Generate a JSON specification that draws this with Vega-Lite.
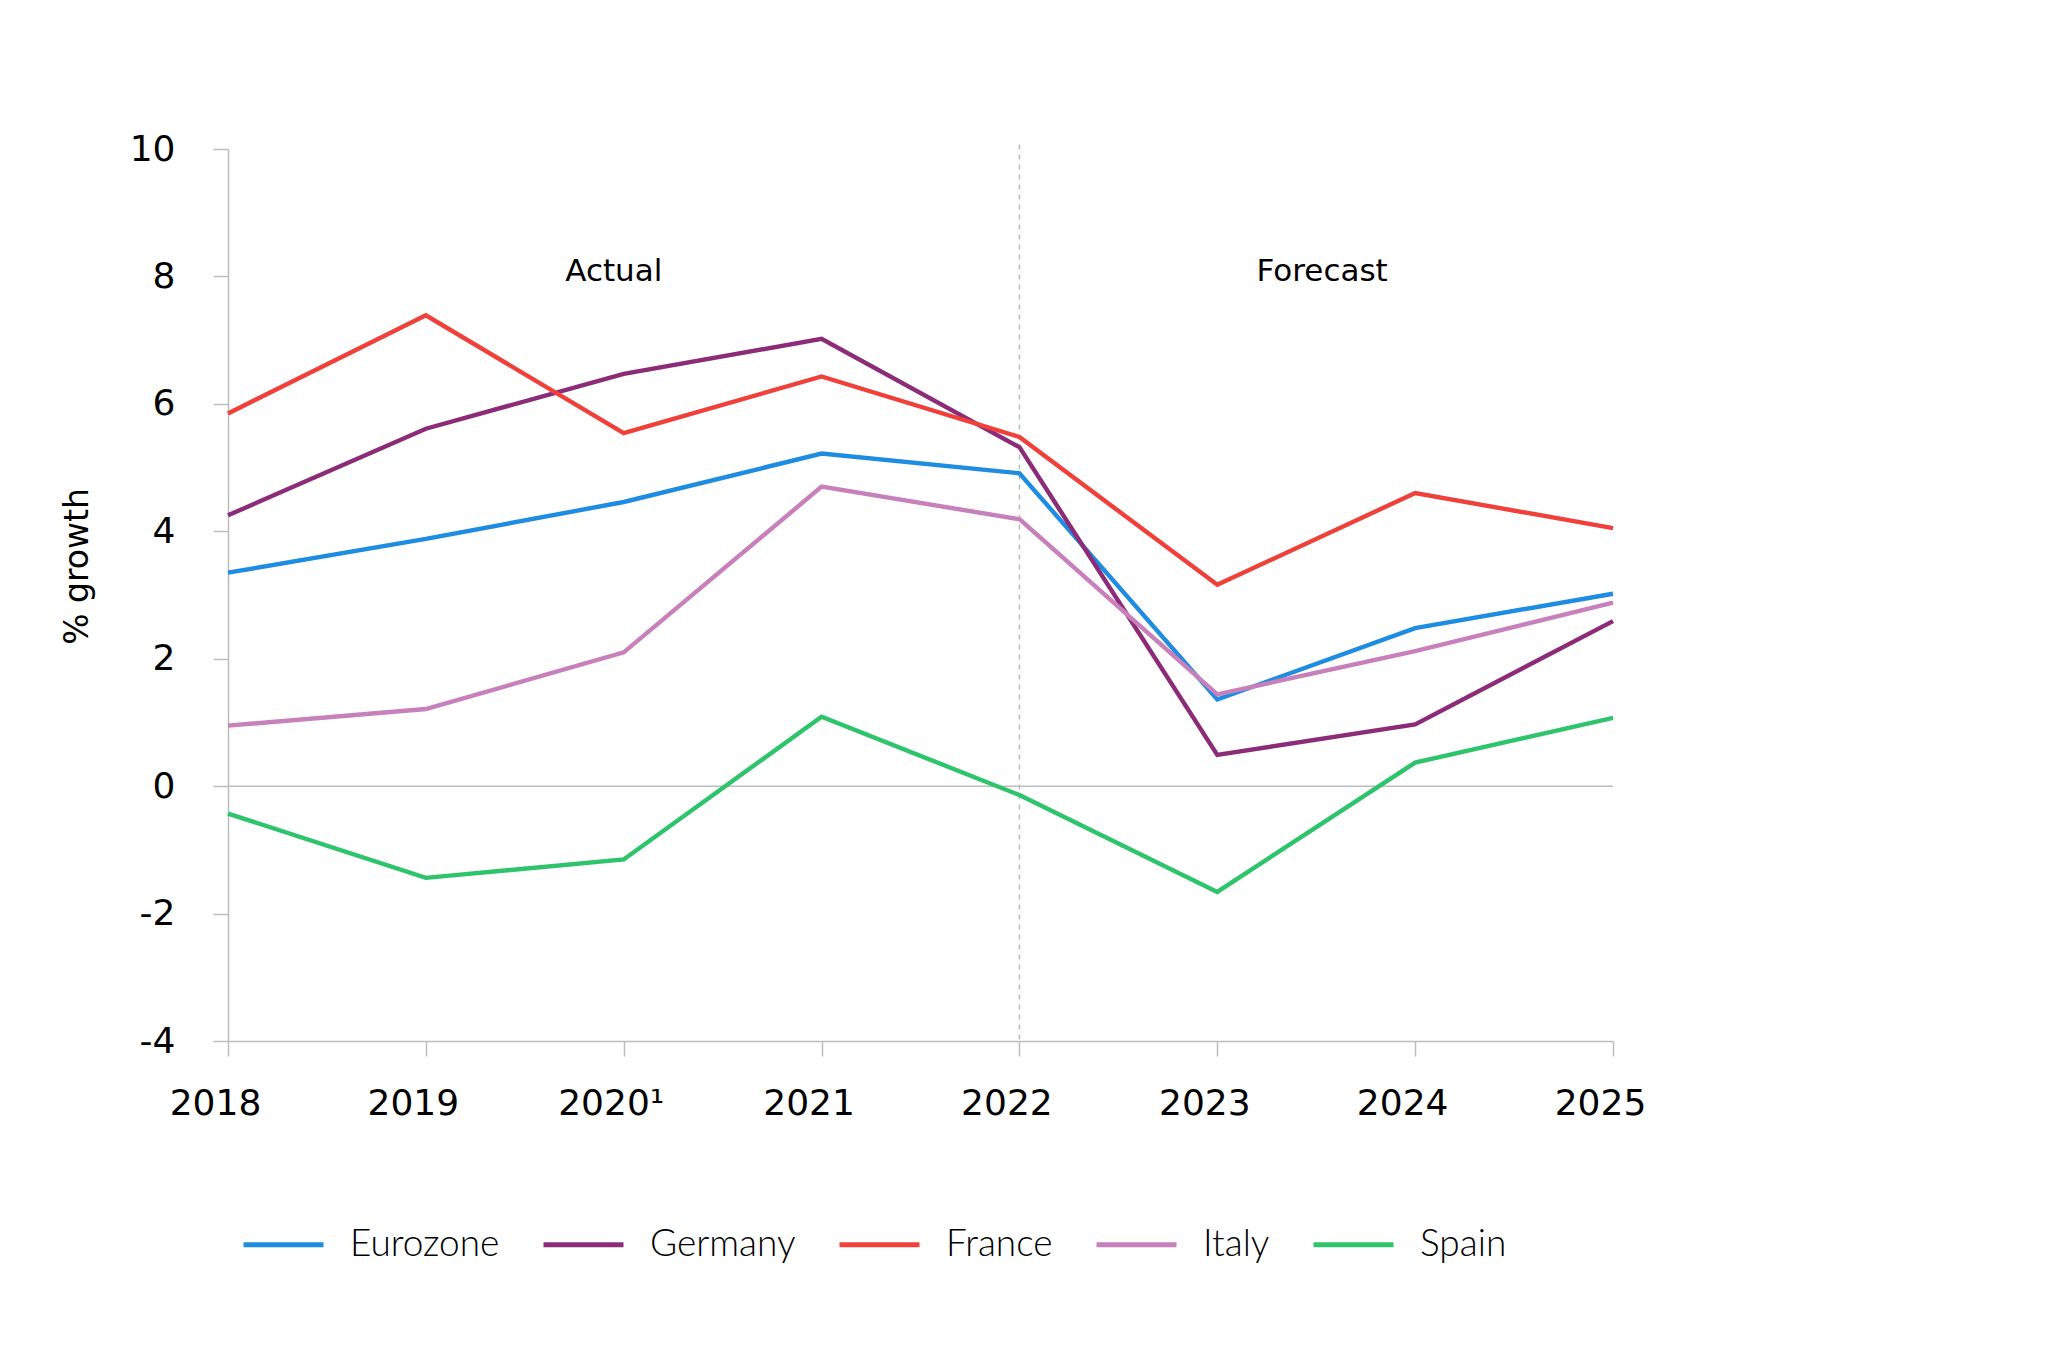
{
  "$schema": "https://vega.github.io/schema/vega-lite/v6.json",
  "autosize": {"type": "none"},
  "width": 1385,
  "height": 892,
  "padding": {"left": 228, "top": 149, "right": 435, "bottom": 324},
  "background": "white",
  "config": {"view": {"stroke": null}},
  "datasets": {
    "series": [
      {"year": 2018, "country": "Eurozone", "value": 3.35},
      {"year": 2019, "country": "Eurozone", "value": 3.88},
      {"year": 2020, "country": "Eurozone", "value": 4.46},
      {"year": 2021, "country": "Eurozone", "value": 5.22},
      {"year": 2022, "country": "Eurozone", "value": 4.91},
      {"year": 2023, "country": "Eurozone", "value": 1.36},
      {"year": 2024, "country": "Eurozone", "value": 2.48},
      {"year": 2025, "country": "Eurozone", "value": 3.02},
      {"year": 2018, "country": "Germany", "value": 4.25},
      {"year": 2019, "country": "Germany", "value": 5.61},
      {"year": 2020, "country": "Germany", "value": 6.47},
      {"year": 2021, "country": "Germany", "value": 7.02},
      {"year": 2022, "country": "Germany", "value": 5.32},
      {"year": 2023, "country": "Germany", "value": 0.49},
      {"year": 2024, "country": "Germany", "value": 0.97},
      {"year": 2025, "country": "Germany", "value": 2.59},
      {"year": 2018, "country": "France", "value": 5.85},
      {"year": 2019, "country": "France", "value": 7.39},
      {"year": 2020, "country": "France", "value": 5.54},
      {"year": 2021, "country": "France", "value": 6.43},
      {"year": 2022, "country": "France", "value": 5.48},
      {"year": 2023, "country": "France", "value": 3.16},
      {"year": 2024, "country": "France", "value": 4.6},
      {"year": 2025, "country": "France", "value": 4.05},
      {"year": 2018, "country": "Italy", "value": 0.95},
      {"year": 2019, "country": "Italy", "value": 1.21},
      {"year": 2020, "country": "Italy", "value": 2.1},
      {"year": 2021, "country": "Italy", "value": 4.7},
      {"year": 2022, "country": "Italy", "value": 4.19},
      {"year": 2023, "country": "Italy", "value": 1.44},
      {"year": 2024, "country": "Italy", "value": 2.12},
      {"year": 2025, "country": "Italy", "value": 2.88},
      {"year": 2018, "country": "Spain", "value": -0.43},
      {"year": 2019, "country": "Spain", "value": -1.44},
      {"year": 2020, "country": "Spain", "value": -1.15},
      {"year": 2021, "country": "Spain", "value": 1.09},
      {"year": 2022, "country": "Spain", "value": -0.14},
      {"year": 2023, "country": "Spain", "value": -1.66},
      {"year": 2024, "country": "Spain", "value": 0.37},
      {"year": 2025, "country": "Spain", "value": 1.07}
    ],
    "divider": [{"year": 2022, "top": 10.07, "bottom": -4}],
    "zero": [{"y": 0}],
    "notes": [
      {"year": 2019.95, "label": "Actual", "value": 8.07},
      {"year": 2023.53, "label": "Forecast", "value": 8.07}
    ]
  },
  "layer": [
    {
      "data": {"name": "zero"},
      "mark": {"type": "rule", "color": "#bdbdbd", "strokeWidth": 1.5},
      "encoding": {"y": {"field": "y", "type": "quantitative", "scale": {"domain": [-4, 10]}}}
    },
    {
      "data": {"name": "divider"},
      "mark": {"type": "rule", "color": "#bdbdbd", "strokeWidth": 1.5, "strokeDash": [5, 5]},
      "encoding": {
        "x": {"field": "year", "type": "quantitative"},
        "y": {"field": "top", "type": "quantitative"},
        "y2": {"field": "bottom"}
      }
    },
    {
      "data": {"name": "series"},
      "mark": {"type": "line", "strokeWidth": 4.4},
      "encoding": {
        "x": {
          "field": "year",
          "type": "quantitative",
          "scale": {"domain": [2018, 2025], "nice": false, "zero": false},
          "axis": {
            "title": null,
            "values": [2018, 2019, 2020, 2021, 2022, 2023, 2024, 2025],
            "labelExpr": "datum.value == 2020 ? '2020¹' : '' + datum.value",
            "grid": false,
            "domainColor": "#bdbdbd",
            "domainWidth": 1.5,
            "tickColor": "#bdbdbd",
            "tickWidth": 1.5,
            "tickSize": 15,
            "labelFont": "DejaVu Sans",
            "labelFontSize": 36,
            "labelColor": "#000000",
            "labelPadding": 30,
            "labelOffset": -13,
            "labelFlush": false,
            "labelOverlap": false
          }
        },
        "y": {
          "field": "value",
          "type": "quantitative",
          "scale": {"domain": [-4, 10], "nice": false},
          "axis": {
            "title": "% growth",
            "values": [-4, -2, 0, 2, 4, 6, 8, 10],
            "labelExpr": "'' + datum.value",
            "grid": false,
            "domainColor": "#bdbdbd",
            "domainWidth": 1.5,
            "tickColor": "#bdbdbd",
            "tickWidth": 1.5,
            "tickSize": 15,
            "labelFont": "DejaVu Sans",
            "labelFontSize": 36,
            "labelColor": "#000000",
            "labelPadding": 38,
            "labelFlush": false,
            "titleFont": "DejaVu Sans",
            "titleFontSize": 33,
            "titleFontWeight": "normal",
            "titleColor": "#000000",
            "titleBaseline": "top",
            "titleAngle": -90,
            "titleX": -167,
            "titleY": 417
          }
        },
        "color": {
          "field": "country",
          "type": "nominal",
          "scale": {
            "domain": ["Eurozone", "Germany", "France", "Italy", "Spain"],
            "range": ["#1e8ce0", "#8c2c78", "#f0403a", "#c880bd", "#2ec46b"]
          },
          "legend": {
            "title": null,
            "orient": "none",
            "direction": "horizontal",
            "legendX": 13,
            "legendY": 1053,
            "padding": 0,
            "symbolType": "stroke",
            "symbolSize": 6400,
            "symbolStrokeWidth": 5,
            "labelOffset": 24,
            "columnPadding": 33,
            "labelFont": "Lato",
            "labelFontSize": 37,
            "labelFontWeight": 300,
            "labelColor": "#000000",
            "labelLimit": 400
          }
        }
      }
    },
    {
      "data": {"name": "notes"},
      "mark": {"type": "text", "font": "DejaVu Sans", "fontSize": 31, "color": "#000000", "baseline": "middle", "align": "center"},
      "encoding": {
        "x": {"field": "year", "type": "quantitative"},
        "y": {"field": "value", "type": "quantitative"},
        "text": {"field": "label"}
      }
    }
  ]
}
